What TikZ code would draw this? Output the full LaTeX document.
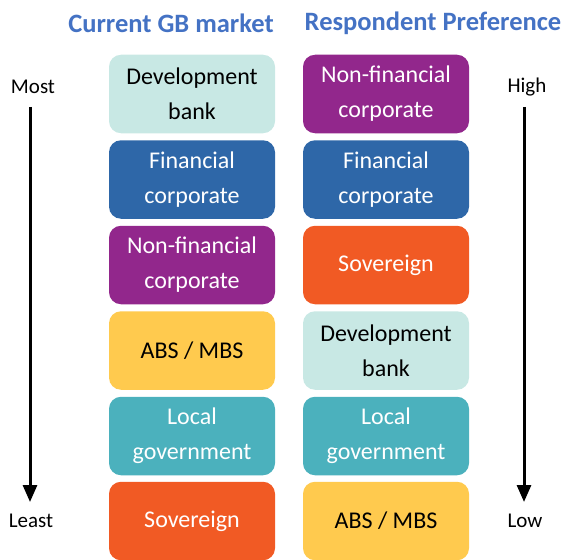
\documentclass[tikz,border=0pt]{standalone}
\usepackage{fontspec}
\setmainfont{Carlito}
\usetikzlibrary{arrows.meta}
\definecolor{ttl}{HTML}{4472C4}
\definecolor{cdev}{HTML}{C8E8E4}
\definecolor{cfin}{HTML}{2E67A8}
\definecolor{cnon}{HTML}{92278C}
\definecolor{cabs}{HTML}{FFCA4E}
\definecolor{cloc}{HTML}{4BB1BD}
\definecolor{csov}{HTML}{F15A24}
\begin{document}
\begin{tikzpicture}[x=1pt,y=-1pt,
  box/.style={rounded corners=12pt, minimum width=166pt, minimum height=78.5pt,
    inner sep=0pt, align=center, font=\fontsize{24}{35}\selectfont, draw=none},
  two/.style={execute at begin node={\rule{0pt}{22pt}}},
  dev/.style={box, two, fill=cdev, text=black},
  fin/.style={box, two, fill=cfin, text=white},
  non/.style={box, two, fill=cnon, text=white},
  abs/.style={box, fill=cabs, text=black},
  loc/.style={box, two, fill=cloc, text=white},
  sov/.style={box, fill=csov, text=white},
  ttlstyle/.style={font=\fontsize{26.5}{30}\selectfont\bfseries, text=ttl},
  lbl/.style={font=\fontsize{21}{24}\selectfont},
  axis/.style={line width=3pt, -{Triangle[length=17pt,width=14pt]}}
]
\useasboundingbox (0,0) rectangle (564,559);
\node[ttlstyle] (t1) at (171,23) {Current GB market};
\node[ttlstyle] (t2) at (433,23) {Respondent Preference};

\node[dev] (l1) at (192,94) {Development\\bank};
\node[fin] (l2) at (192,179.5) {Financial\\corporate};
\node[non] (l3) at (192,265) {Non-financial\\corporate};
\node[abs] (l4) at (192,350.5) {ABS / MBS};
\node[loc] (l5) at (192,436) {Local\\government};
\node[sov] (l6) at (192,521) {Sovereign};

\node[non] (r1) at (386,94) {Non-financial\\corporate};
\node[fin] (r2) at (386,179.5) {Financial\\corporate};
\node[sov] (r3) at (386,265) {Sovereign};
\node[dev] (r4) at (386,350.5) {Development\\bank};
\node[loc] (r5) at (386,436) {Local\\government};
\node[abs] (r6) at (386,521) {ABS / MBS};

\node[lbl] (most) at (33,87) {Most};
\node[lbl] (least) at (31,521) {Least};
\node[lbl] (high) at (527,87) {High};
\node[lbl] (low) at (525,521) {Low};

\coordinate (la) at (30,107);
\coordinate (lb) at (30,502);
\coordinate (ra) at (524,107);
\coordinate (rb) at (524,502);
\draw[axis] (la) -- (lb);
\draw[axis] (ra) -- (rb);
\end{tikzpicture}
\end{document}
